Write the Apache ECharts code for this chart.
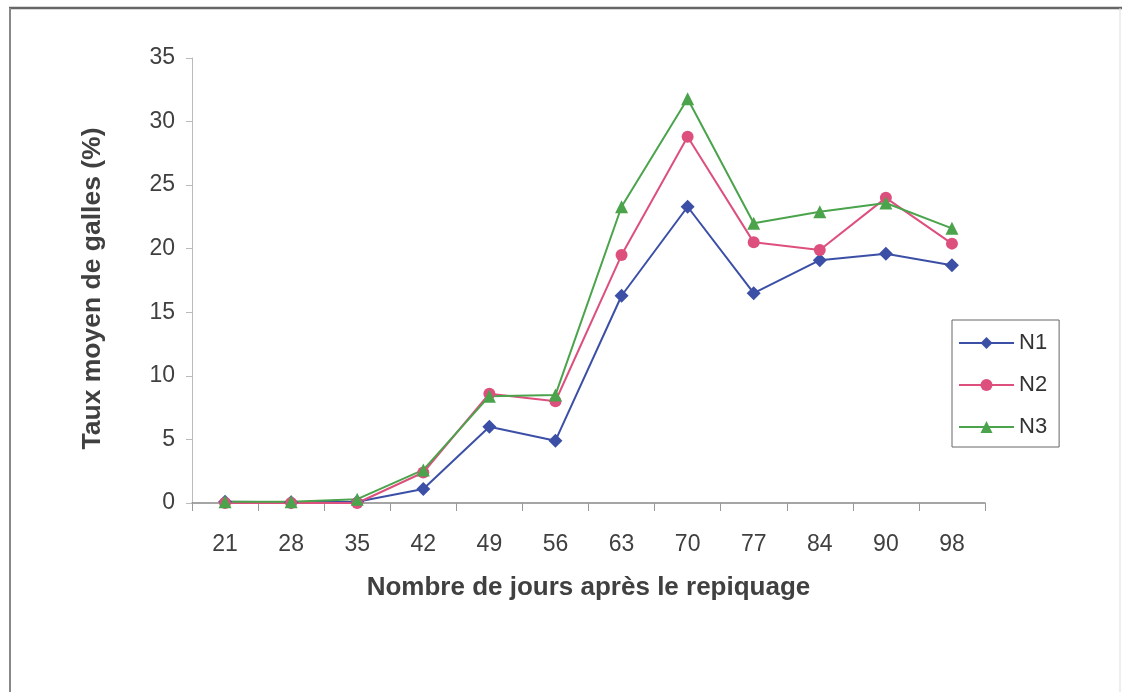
<!DOCTYPE html>
<html>
<head>
<meta charset="utf-8">
<script src="https://cdn.jsdelivr.net/npm/echarts@6/dist/echarts.min.js"></script>
<style>
  html, body { margin: 0; padding: 0; background: #fff; }
  #chart { width: 1122px; height: 692px; }
</style>
</head>
<body>
<div id="chart"></div>
<script>
// Jours après le repiquage
const days = ['21', '28', '35', '42', '49', '56', '63', '70', '77', '84', '90', '98'];
// Taux moyen de galles (%) par niveau
const n1 = [0.1, 0.05, 0.1, 1.1, 6.0, 4.9, 16.3, 23.3, 16.5, 19.1, 19.6, 18.7];
const n2 = [0.0, 0.0, 0.0, 2.4, 8.6, 8.0, 19.5, 28.8, 20.5, 19.9, 24.0, 20.4];
const n3 = [0.1, 0.1, 0.3, 2.6, 8.4, 8.5, 23.3, 31.8, 22.0, 22.9, 23.6, 21.6];
const seriesNames = ['N1', 'N2', 'N3'];

const font = 'Liberation Sans, Arial, sans-serif';
const chart = echarts.init(document.getElementById('chart'), null, { renderer: 'canvas' });

function line(name, data, color, symbol, size) {
  return {
    name, type: 'line', data,
    symbol, symbolSize: size,
    lineStyle: { color, width: 2 },
    itemStyle: { color },
    emphasis: { disabled: true },
    animation: false
  };
}

chart.setOption({
  backgroundColor: '#fff',
  animation: false,
  textStyle: { fontFamily: font },
  graphic: [
    { type: 'line', silent: true, shape: { x1: 9, y1: 8, x2: 1122, y2: 8 },
      style: { stroke: '#666', lineWidth: 2.5 } },
    { type: 'line', silent: true, shape: { x1: 10, y1: 8, x2: 10, y2: 692 },
      style: { stroke: '#888', lineWidth: 2 } },
    { type: 'line', silent: true, shape: { x1: 1120, y1: 8, x2: 1120, y2: 692 },
      style: { stroke: '#ddd', lineWidth: 1 } }
  ],
  grid: { left: 192, right: 137, top: 58, bottom: 189 },
  legend: {
    orient: 'vertical',
    left: 952, top: 320,
    padding: [12, 12, 9, 6],
    itemGap: 20,
    itemWidth: 55, itemHeight: 15,
    borderColor: '#666', borderWidth: 1,
    textStyle: { fontSize: 22, lineHeight: 22, color: '#333', fontFamily: font },
    data: seriesNames
  },
  xAxis: {
    type: 'category',
    data: days,
    boundaryGap: true,
    name: 'Nombre de jours après le repiquage',
    nameLocation: 'middle',
    nameGap: 72,
    nameTextStyle: { fontSize: 26, fontWeight: 'bold', color: '#404040', fontFamily: font },
    axisLine: { lineStyle: { color: '#888', width: 1.5 } },
    axisTick: { show: true, alignWithLabel: false, length: 8, lineStyle: { color: '#999' } },
    axisLabel: { fontSize: 23, color: '#404040', margin: 30, fontFamily: font },
    splitLine: { show: false }
  },
  yAxis: {
    type: 'value',
    min: 0, max: 35, interval: 5,
    name: 'Taux moyen de galles (%)',
    nameLocation: 'middle',
    nameGap: 86,
    nameTextStyle: {
      fontSize: 26.5, fontWeight: 'bold', color: '#404040', fontFamily: font,
      padding: [0, 16, 0, 0]
    },
    axisLine: { show: true, lineStyle: { color: '#bbb', width: 1 } },
    axisTick: { show: true, length: 6, lineStyle: { color: '#bbb' } },
    axisLabel: { fontSize: 23, color: '#404040', margin: 17, fontFamily: font },
    splitLine: { show: false }
  },
  series: [
    line('N1', n1, '#3c4fa6', 'diamond', 14),
    line('N2', n2, '#dd4f7c', 'circle', 12),
    line('N3', n3, '#4ba34c', 'triangle', 13)
  ]
});
</script>
</body>
</html>
